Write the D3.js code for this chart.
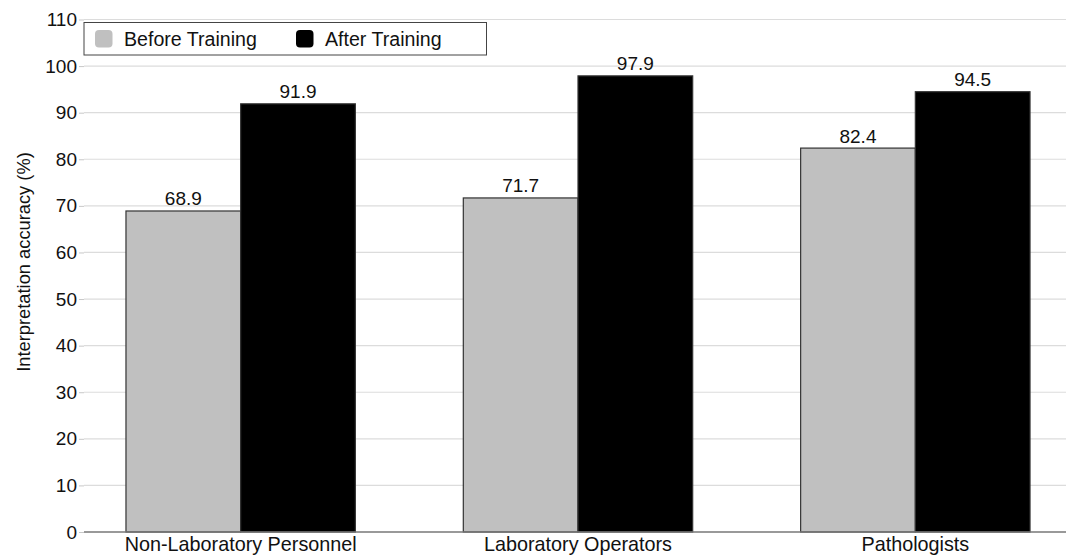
<!DOCTYPE html>
<html>
<head>
<meta charset="utf-8">
<script src="https://cdn.jsdelivr.net/npm/d3@7"></script>
<style>
  html, body { margin: 0; padding: 0; background: #fff; }
  svg { display: block; font-family: "Liberation Sans", Arial, Helvetica, sans-serif; }
</style>
</head>
<body>
<svg id="chart" width="1066" height="556"></svg>
<script>
// Interpretation accuracy before and after training, by group
const categories = ["Non-Laboratory Personnel", "Laboratory Operators", "Pathologists"];
const seriesNames = ["Before Training", "After Training"];
const beforeTraining = [68.9, 71.7, 82.4];
const afterTraining = [91.9, 97.9, 94.5];
const yTicks = [0, 10, 20, 30, 40, 50, 60, 70, 80, 90, 100, 110];
const seriesColors = ["#c0c0c0", "#000000"];

const seriesValues = [beforeTraining, afterTraining];
const svg = d3.select("#chart");

const plotLeft = 84, plotRight = 1066, plotTop = 19.5, plotBottom = 532;

const y = d3.scaleLinear().domain([0, 110]).range([plotBottom, plotTop]);
const x0 = d3.scaleBand().domain(categories).range([72, 1084])
  .paddingInner(0.32).paddingOuter(0.16);
const x1 = d3.scaleBand().domain(seriesNames).range([0, x0.bandwidth()]);

// horizontal gridlines
svg.append("g")
  .selectAll("line")
  .data(yTicks.filter(d => d > 0))
  .join("line")
  .attr("x1", plotLeft).attr("x2", plotRight)
  .attr("y1", d => y(d)).attr("y2", d => y(d))
  .attr("stroke", "#dcdcdc").attr("stroke-width", 1.2);

// y axis: tick labels and short tick marks
const yAxis = d3.axisLeft(y).tickValues(yTicks).tickSize(5).tickPadding(2);
const gy = svg.append("g").attr("transform", `translate(${plotLeft},0)`).call(yAxis);
gy.select(".domain").remove();
gy.selectAll(".tick line").attr("stroke", "#c8c8c8");
gy.selectAll(".tick text")
  .attr("font-size", 19).attr("fill", "#111")
  .attr("font-family", "'Liberation Sans', Arial, sans-serif");

// y axis title
svg.append("text")
  .attr("transform", `translate(30,262) rotate(-90)`)
  .attr("text-anchor", "middle")
  .attr("font-size", 18.3)
  .attr("fill", "#111")
  .text("Interpretation accuracy (%)");

// bars
const groups = svg.append("g")
  .selectAll("g")
  .data(categories)
  .join("g")
  .attr("transform", d => `translate(${x0(d)},0)`);

groups.selectAll("rect")
  .data((c, i) => seriesNames.map((s, j) => ({ s, v: seriesValues[j][i], j })))
  .join("rect")
  .attr("x", d => x1(d.s))
  .attr("y", d => y(d.v))
  .attr("width", x1.bandwidth())
  .attr("height", d => y(0) - y(d.v))
  .attr("fill", d => seriesColors[d.j])
  .attr("stroke", "#333")
  .attr("stroke-width", 1.2);

// value labels
groups.selectAll("text.value")
  .data((c, i) => seriesNames.map((s, j) => ({ s, v: seriesValues[j][i] })))
  .join("text")
  .attr("class", "value")
  .attr("x", d => x1(d.s) + x1.bandwidth() / 2)
  .attr("y", d => y(d.v) - 5.5)
  .attr("text-anchor", "middle")
  .attr("font-size", 19)
  .attr("fill", "#111")
  .text(d => d.v.toFixed(1));

// x axis baseline and category labels
svg.append("line")
  .attr("x1", plotLeft).attr("x2", plotRight)
  .attr("y1", y(0)).attr("y2", y(0))
  .attr("stroke", "#777").attr("stroke-width", 1.5);

const xAxis = d3.axisBottom(x0).tickSize(0).tickPadding(4.5);
const gx = svg.append("g").attr("transform", `translate(0,${y(0)})`).call(xAxis);
gx.select(".domain").remove();
gx.selectAll(".tick text")
  .attr("font-size", 19.8).attr("fill", "#111")
  .attr("font-family", "'Liberation Sans', Arial, sans-serif");

// legend
const legend = svg.append("g");
legend.append("rect")
  .attr("x", 84).attr("y", 22.5).attr("width", 402.5).attr("height", 32.5)
  .attr("fill", "#fff").attr("stroke", "#444").attr("stroke-width", 1);

const legendX = [95, 296];
const items = legend.selectAll("g.item")
  .data(seriesNames)
  .join("g")
  .attr("class", "item")
  .attr("transform", (d, i) => `translate(${legendX[i]},30)`);
items.append("rect")
  .attr("width", 17.5).attr("height", 17.5).attr("rx", 4)
  .attr("fill", (d, i) => seriesColors[i]);
items.append("text")
  .attr("x", 29).attr("y", 15.5)
  .attr("font-size", 19.6).attr("fill", "#111")
  .text(d => d);
</script>
</body>
</html>
